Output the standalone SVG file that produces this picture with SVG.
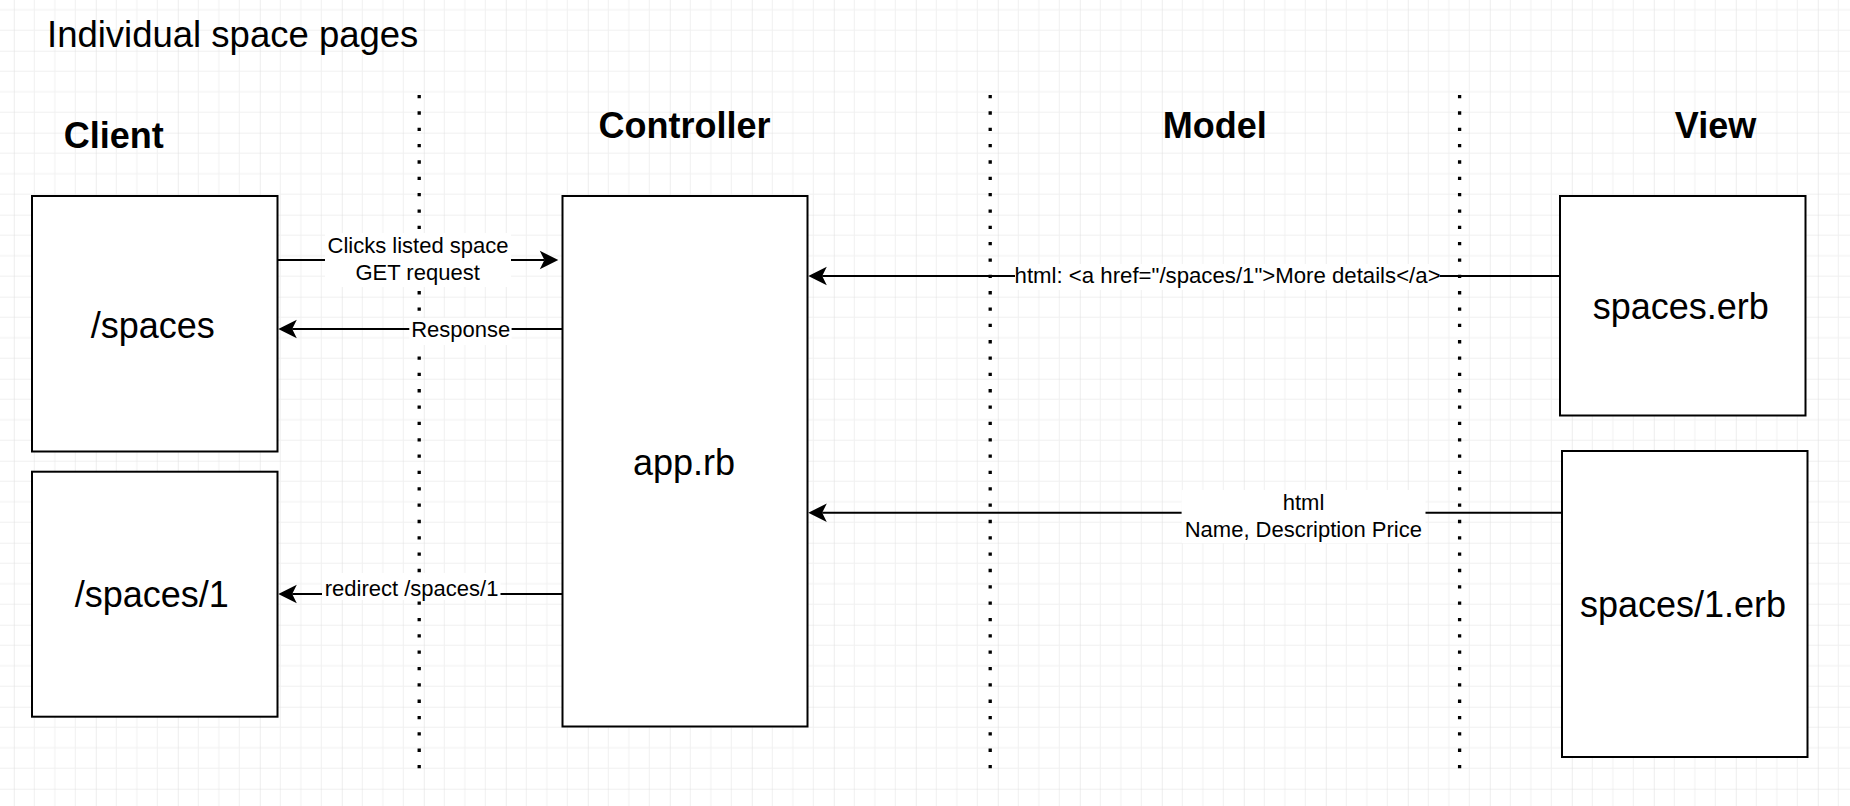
<svg xmlns="http://www.w3.org/2000/svg" width="1850" height="806" viewBox="0 0 1850 806">
  <style>
    text { font-family: "Liberation Sans", Arial, Helvetica, sans-serif; fill: #000; }
    .title { font-size: 36.5px; }
    .hdr { font-size: 36px; font-weight: bold; text-anchor: middle; }
    .node { font-size: 36px; text-anchor: middle; }
    .lbl { font-size: 22px; text-anchor: middle; }
    .box { fill: #ffffff; stroke: #000; stroke-width: 2; }
    .sep { stroke: #000; stroke-width: 3.3; stroke-dasharray: 3.3 13.04; fill: none; }
    .edge { stroke: #000; stroke-width: 2; fill: none; marker-end: url(#arrow); }
    .lblbg { fill: #ffffff; }
  </style>
  <defs>
    <pattern id="grid" patternUnits="userSpaceOnUse" x="13.8" y="50.7" width="82" height="82">
      <path d="M20.5 0V82M41 0V82M61.5 0V82M0 20.5H82M0 41H82M0 61.5H82" stroke="#f0f0f0" stroke-width="1" fill="none"/>
      <path d="M0 0V82M0 0H82" stroke="#e1e1e1" stroke-width="1.2" fill="none"/>
    </pattern>
    <marker id="arrow" markerUnits="userSpaceOnUse" orient="auto" refX="0" refY="0" markerWidth="40" markerHeight="40" overflow="visible">
      <path d="M13.9 0L-4.6 -9.2L0 0L-4.6 9.2Z" fill="#000" stroke="none"/>
    </marker>
  </defs>

  <rect x="0" y="0" width="1850" height="806" fill="#ffffff"/>
  <rect x="0" y="0" width="1850" height="806" fill="url(#grid)"/>

  <g id="title">
    <text class="title" x="47" y="46.7">Individual space pages</text>
  </g>

  <g id="separators">
    <line class="sep" x1="419.2" y1="95" x2="419.2" y2="768.5"/>
    <line class="sep" x1="990.2" y1="95" x2="990.2" y2="768.5"/>
    <line class="sep" x1="1459.6" y1="95" x2="1459.6" y2="768.5"/>
  </g>

  <g id="headers">
    <text class="hdr" x="113.7" y="148.3">Client</text>
    <text class="hdr" x="684.5" y="138.3">Controller</text>
    <text class="hdr" x="1214.7" y="138.3">Model</text>
    <text class="hdr" x="1715.5" y="138.3">View</text>
  </g>

  <g id="node-spaces">
    <rect class="box" x="32" y="196" width="245.5" height="255.5"/>
    <text class="node" x="152.8" y="338.3">/spaces</text>
  </g>
  <g id="node-spaces-1">
    <rect class="box" x="32" y="471.7" width="245.5" height="245"/>
    <text class="node" x="151.8" y="606.7">/spaces/1</text>
  </g>
  <g id="node-app">
    <rect class="box" x="562.5" y="196" width="245" height="530.5"/>
    <text class="node" x="684" y="475">app.rb</text>
  </g>
  <g id="node-spaces-erb">
    <rect class="box" x="1560" y="196" width="245.5" height="219.5"/>
    <text class="node" x="1680.8" y="319.3">spaces.erb</text>
  </g>
  <g id="node-spaces-1-erb">
    <rect class="box" x="1562" y="451" width="245.5" height="306"/>
    <text class="node" x="1683" y="616.7">spaces/1.erb</text>
  </g>

  <g id="connectors">
    <line class="edge" x1="277.6" y1="260" x2="544.4" y2="260"/>
    <line class="edge" x1="562.5" y1="329" x2="292.2" y2="329"/>
    <line class="edge" x1="562.5" y1="594" x2="292.2" y2="594"/>
    <line class="edge" x1="1560" y1="276" x2="822.2" y2="276"/>
    <line class="edge" x1="1562" y1="512.7" x2="822.2" y2="512.7"/>

    <rect class="lblbg" x="325" y="233" width="186" height="54"/>
    <text class="lbl" x="418" y="253.3">Clicks listed space</text>
    <text class="lbl" x="417.6" y="280">GET request</text>

    <rect class="lblbg" x="409.3" y="318" width="102.3" height="27"/>
    <text class="lbl" x="460.7" y="336.7">Response</text>

    <rect class="lblbg" x="322" y="573" width="178.5" height="27"/>
    <text class="lbl" x="411.6" y="595.5">redirect /spaces/1</text>

    <rect class="lblbg" x="1015" y="264" width="425" height="26"/>
    <text class="lbl" x="1227.6" y="283.3" textLength="426" lengthAdjust="spacingAndGlyphs">html: &lt;a href="/spaces/1"&gt;More details&lt;/a&gt;</text>

    <rect class="lblbg" x="1181.6" y="490" width="243.9" height="53.3"/>
    <text class="lbl" x="1303.5" y="510">html</text>
    <text class="lbl" x="1303.3" y="537.3">Name, Description Price</text>
  </g>
</svg>
